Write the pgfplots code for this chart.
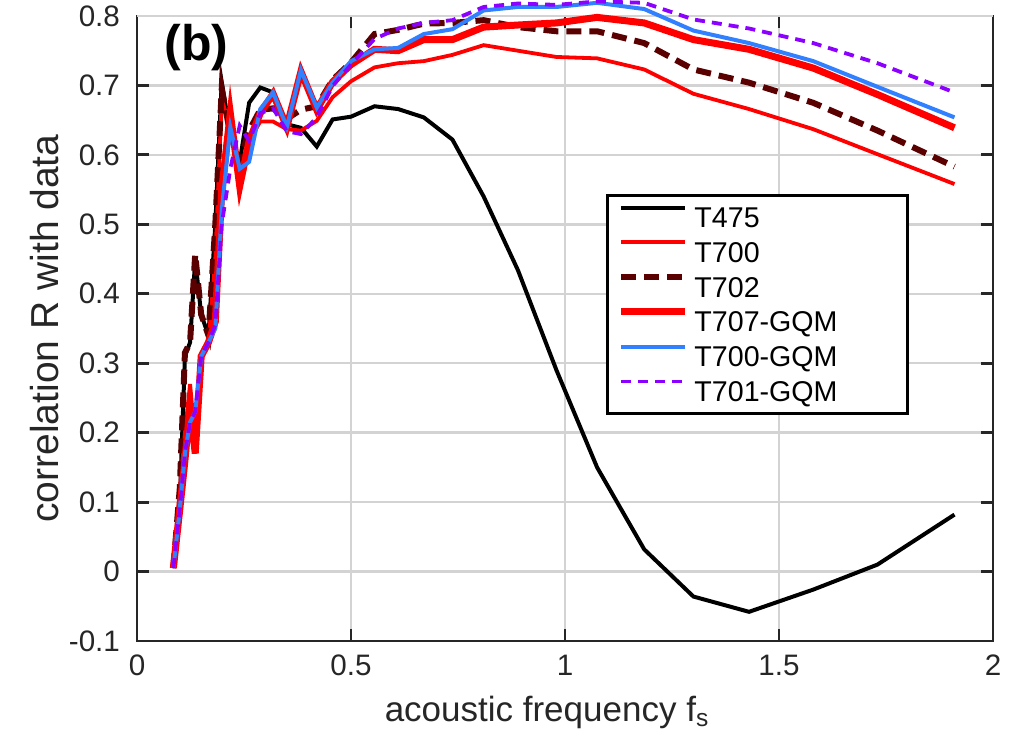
\documentclass[border=0pt]{standalone}
\usepackage{fontspec}
\setmainfont{Liberation Sans}
\usepackage{pgfplots}
\pgfplotsset{compat=1.18}
\usepackage{pgfplotstable}
\definecolor{mgray}{HTML}{262626}
\definecolor{brn}{HTML}{5A0000}
\definecolor{myblue}{HTML}{3080FF}
\definecolor{mypurple}{HTML}{8C00FF}
\definecolor{gridc}{HTML}{D3D3D3}

\pgfplotstableread{
f     T475   T700   T702   T707   T700G  T701
0.085 0.005  0.005  0.005  0.005  0.005  0.005
0.100 0.10   0.12   0.12   0.09   0.09   0.09
0.112 0.31   0.20   0.315  0.16   0.17   0.17
0.124 0.33   0.27   0.33   0.24   0.215  0.215
0.136 0.45   0.19   0.457  0.17   0.23   0.23
0.150 0.37   0.31   0.37   0.31   0.31   0.31
0.167 0.34   0.33   0.34   0.33   0.33   0.33
0.183 0.50   0.45   0.50   0.36   0.35   0.355
0.198 0.705  0.68   0.695  0.55   0.52   0.50
0.218 0.63   0.64   0.63   0.66   0.64   0.58
0.240 0.59   0.58   0.59   0.555  0.58   0.642
0.262 0.675  0.62   0.635  0.62   0.59   0.62
0.288 0.697  0.648  0.665  0.66   0.666  0.66
0.318 0.69   0.648  0.667  0.688  0.69   0.667
0.350 0.644  0.637  0.652  0.64   0.64   0.634
0.383 0.639  0.635  0.665  0.72   0.722  0.63
0.420 0.612  0.649  0.67   0.665  0.668  0.654
0.457 0.651  0.683  0.708  0.705  0.704  0.699
0.500 0.655  0.706  0.733  0.73   0.735  0.73
0.555 0.670  0.726  0.774  0.752  0.752  0.767
0.610 0.666  0.732  0.78   0.75   0.754  0.782
0.670 0.654  0.735  0.789  0.766  0.774  0.79
0.737 0.622  0.744  0.79   0.766  0.781  0.794
0.810 0.54   0.758  0.794  0.784  0.808  0.813
0.890 0.434  0.75   0.784  0.787  0.813  0.818
0.980 0.29   0.741  0.778  0.790  0.813  0.816
1.075 0.15   0.739  0.778  0.798  0.819  0.821
1.185 0.032  0.723  0.761  0.79   0.81   0.819
1.300 -0.036 0.688  0.723  0.766  0.779  0.795
1.430 -0.058 0.666  0.704  0.752  0.761  0.782
1.580 -0.026 0.637  0.675  0.725  0.735  0.761
1.730 0.01   0.601  0.635  0.687  0.698  0.732
1.910 0.082  0.558  0.583  0.639  0.654  0.690
}\data

\begin{document}
\begin{tikzpicture}
\begin{axis}[
  scale only axis, width=428pt, height=312.5pt,
  xmin=0, xmax=2, ymin=-0.1, ymax=0.8,
  xtick={0,0.5,1,1.5,2}, xticklabels={0,0.5,1,1.5,2},
  ytick={-0.1,0,0.1,0.2,0.3,0.4,0.5,0.6,0.7,0.8},
  yticklabels={-0.1,0,0.1,0.2,0.3,0.4,0.5,0.6,0.7,0.8},
  grid=major, major grid style={gridc, line width=1.2pt},
  axis line style={mgray, line width=1.4pt},
  tick style={mgray, line width=1.4pt},
  major tick length=6pt,
  tick align=inside,
  ticklabel style={font=\fontsize{14.8}{17}\selectfont, text=mgray},
  xticklabel style={yshift=-3.5pt},
  yticklabel style={xshift=-5pt},
  xlabel={acoustic frequency f\textsubscript{s}},
  ylabel={correlation R with data},
  xlabel style={font=\fontsize{17.5}{20}\selectfont, text=mgray, at={(axis description cs:0.479,-0.114)}, anchor=center},
  ylabel style={font=\fontsize{19.5}{22}\selectfont, text=mgray, at={(axis description cs:-0.1075,0.5)}, anchor=center},
  clip=false,
  legend style={at={(axis description cs:0.548,0.715)}, anchor=north west,
    draw=black, line width=1.4pt, font=\fontsize{14.3}{17}\selectfont,
    inner xsep=5pt, inner ysep=4pt, row sep=3.4pt, column sep=3pt,
    nodes={inner sep=0pt, text height=12pt, text depth=2pt}},
  legend cell align=left,
  legend image code/.code={\draw[#1] (0pt,5pt) -- (32pt,5pt);},
]
\draw[gridc, line width=1.4pt] (rel axis cs:0,1) -- (rel axis cs:1,1);
\addplot[black, line width=2pt] table[x=f, y=T475]{\data};
\addlegendentry{T475}
\addplot[red, line width=1.9pt] table[x=f, y=T700]{\data};
\addlegendentry{T700}
\addplot[brn, line width=3pt, dash pattern=on 7.5pt off 4pt] table[x=f, y=T702]{\data};
\addlegendentry{T702}
\addplot[red, line width=3.5pt] table[x=f, y=T707]{\data};
\addlegendentry{T707-GQM}
\addplot[myblue, line width=2pt] table[x=f, y=T700G]{\data};
\addlegendentry{T700-GQM\hspace*{30pt}}
\addplot[mypurple, line width=1.9pt, dash pattern=on 5pt off 3.5pt] table[x=f, y=T701]{\data};
\addlegendentry{T701-GQM}
\node[anchor=west, inner sep=0pt, font=\fontsize{25}{28}\selectfont\bfseries] at (rel axis cs:0.032,0.950) {(b)};
\coordinate (SW) at (rel axis cs:0,0);
\coordinate (NE) at (rel axis cs:1,1);
\end{axis}
\pgfresetboundingbox
\path ([xshift=-68.5pt,yshift=-50pt]SW) rectangle ([xshift=9.5pt,yshift=8pt]NE);
\end{tikzpicture}
\end{document}
